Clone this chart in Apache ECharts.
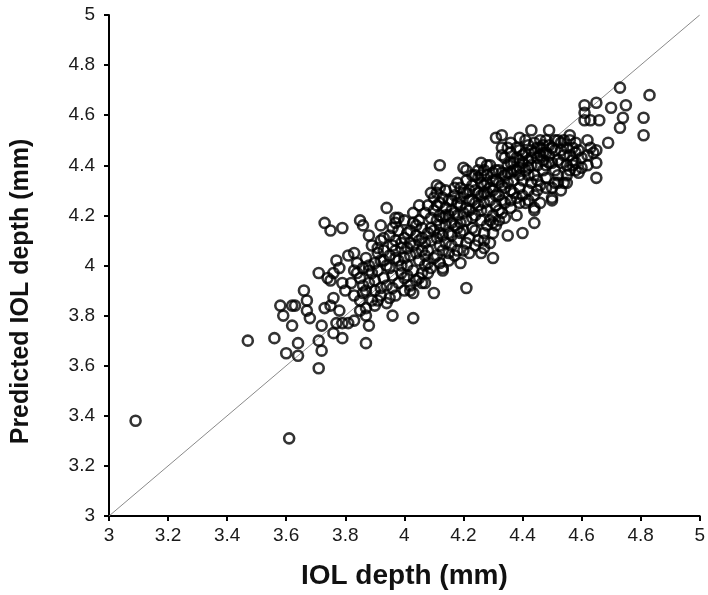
<!DOCTYPE html>
<html>
<head>
<meta charset="utf-8">
<script src="https://cdn.jsdelivr.net/npm/echarts@6/dist/echarts.min.js"></script>
<style>
html,body{margin:0;padding:0;background:#fff;}
#chart{width:708px;height:595px;}
</style>
</head>
<body>
<div id="chart"></div>
<script>
// Axis ticks
var xTicks = [3, 3.2, 3.4, 3.6, 3.8, 4, 4.2, 4.4, 4.6, 4.8, 5];
var yTicks = [3, 3.2, 3.4, 3.6, 3.8, 4, 4.2, 4.4, 4.6, 4.8, 5];
var identityLine = [[3, 3], [5, 5]];

// [IOL depth, predicted IOL depth]
var edgePoints = [
  [3.09,3.38],[3.61,3.31],[3.47,3.70],[3.56,3.71],[3.60,3.65],[3.64,3.69],[3.64,3.64],[3.62,3.76],
  [3.59,3.80],[3.58,3.84],[3.62,3.84],[3.63,3.84],[3.66,3.90],[3.67,3.86],[3.67,3.82],[3.68,3.79],
  [3.72,3.76],[3.71,3.70],[3.72,3.66],[3.71,3.59],[3.73,3.83],[3.75,3.84],[3.76,3.73],[3.77,3.77],
  [3.76,3.87],[3.75,3.94],[3.73,4.17],[3.75,4.14],[3.79,4.15],[3.94,4.23],[3.97,4.19],[3.85,4.18],
  [3.86,4.16],[3.92,4.16],[3.88,4.12],[3.71,3.97],[3.74,3.95],[3.76,3.97],[3.77,4.02],[3.78,3.99],
  [3.83,3.98],[3.81,4.04],[3.83,4.05],[3.79,3.93],[3.80,3.90],[3.79,3.71],[3.79,3.77],[3.81,3.77],
  [3.83,3.78],[3.78,3.82],[3.83,3.88],[3.86,3.89],[3.85,3.86],[3.87,3.83],[3.87,3.80],[3.88,3.76],
  [3.87,3.69],[3.96,3.80],[3.91,3.86],[3.92,3.88],[4.03,3.79],[4.03,3.89],[4.07,3.93],[4.10,3.89],
  [4.13,3.98],[4.13,3.99],[3.96,3.91],[4.02,3.90]
];
var upperPoints = [
  [4.12,4.40],[4.35,4.12],[4.40,4.13],[4.44,4.17],[4.44,4.23],[4.19,4.01],[4.21,3.91],[4.30,4.03],
  [4.26,4.05],[4.27,4.10],[4.29,4.09],[3.98,4.19],[4.11,4.32],[4.09,4.29],[4.20,4.39],[4.26,4.41],
  [4.34,4.43],[4.39,4.46],[4.42,4.48],[4.31,4.51],[4.33,4.52],[4.39,4.51],[4.43,4.54],[4.49,4.54],
  [4.73,4.71],[4.83,4.68],[4.61,4.64],[4.65,4.65],[4.70,4.63],[4.75,4.64],[4.61,4.61],[4.61,4.58],
  [4.63,4.58],[4.66,4.58],[4.74,4.59],[4.73,4.55],[4.81,4.59],[4.81,4.52],[4.69,4.49],[4.65,4.46],
  [4.65,4.41],[4.65,4.35],[4.46,4.50],[4.51,4.50],[4.56,4.52],[4.62,4.50],[4.58,4.49],[4.59,4.46],
  [4.60,4.43],[4.57,4.40],[4.59,4.37],[4.54,4.33],[4.50,4.31],[4.50,4.27],[4.44,4.22],[4.64,4.45],
  [4.53,4.41],[4.50,4.26]
];
var corePointsLow = [
  [3.85,3.95],[3.86,3.99],[3.87,4.03],[3.88,3.93],[3.89,3.97],[3.90,4.01],[3.90,3.94],[3.91,4.05],
  [3.89,4.08],[3.92,4.10],[3.88,4.00],[3.86,3.92],[3.90,3.84],[3.91,3.98],[3.92,4.02],[3.84,3.97],
  [3.84,4.01],[3.82,3.93],[3.85,3.82],
  [3.93,3.95],[3.94,4.00],[3.95,4.04],[3.96,4.08],[3.93,4.11],[3.95,4.12],[3.97,4.06],[3.98,4.02],
  [3.99,3.97],[3.94,3.92],[3.96,3.96],[3.97,4.10],[3.98,4.14],[3.99,4.07],[4.00,4.11],[3.95,3.87],
  [3.98,3.93],[4.00,4.03],[3.93,4.06],[3.96,4.15],[3.99,4.00],[4.00,3.95],
  [4.01,4.00],[4.02,4.04],[4.03,4.08],[4.04,4.12],[4.05,4.02],[4.06,4.06],[4.01,3.96],[4.03,3.98],
  [4.05,4.10],[4.06,4.15],[4.07,4.00],[4.02,4.14],[4.04,3.94],[4.07,4.09],[4.05,4.18],[4.03,4.21],
  [4.06,3.97],[4.01,4.07],[4.04,4.05],[4.07,4.04],[4.02,3.92],[4.06,3.93]
];
var corePointsMid = [
  [4.08,4.06],[4.09,4.10],[4.10,4.14],[4.11,4.18],[4.12,4.08],[4.13,4.12],[4.14,4.16],[4.15,4.20],
  [4.08,4.01],[4.09,4.15],[4.10,4.22],[4.11,4.04],[4.12,4.25],[4.13,4.19],[4.14,4.09],[4.15,4.13],
  [4.08,4.24],[4.10,4.27],[4.12,4.16],[4.14,4.23],[4.15,4.05],[4.09,3.99],[4.11,4.11],[4.13,4.06],
  [4.14,4.30],[4.12,4.20],[4.10,4.03],[4.15,4.26],
  [4.16,4.12],[4.17,4.16],[4.18,4.20],[4.19,4.24],[4.20,4.14],[4.21,4.18],[4.22,4.22],[4.23,4.26],
  [4.16,4.08],[4.17,4.28],[4.18,4.10],[4.19,4.31],[4.20,4.06],[4.21,4.34],[4.22,4.11],[4.23,4.19],
  [4.16,4.22],[4.17,4.04],[4.18,4.25],[4.19,4.17],[4.20,4.29],[4.21,4.23],[4.22,4.30],[4.23,4.15],
  [4.16,4.17],[4.18,4.33],[4.20,4.21],[4.22,4.05],[4.19,4.13],[4.23,4.36],
  [4.24,4.20],[4.25,4.24],[4.26,4.28],[4.27,4.32],[4.28,4.22],[4.29,4.26],[4.30,4.30],[4.31,4.34],
  [4.24,4.14],[4.25,4.35],[4.26,4.18],[4.27,4.38],[4.28,4.16],[4.29,4.40],[4.30,4.20],[4.31,4.24],
  [4.24,4.30],[4.25,4.10],[4.26,4.33],[4.27,4.25],[4.28,4.36],[4.29,4.18],[4.30,4.37],[4.31,4.28],
  [4.26,4.22],[4.28,4.29],[4.30,4.13],[4.25,4.38],[4.31,4.16],[4.27,4.07]
];
var corePointsHigh = [
  [4.32,4.28],[4.33,4.32],[4.34,4.36],[4.35,4.40],[4.36,4.30],[4.37,4.34],[4.38,4.38],[4.39,4.42],
  [4.32,4.22],[4.33,4.44],[4.34,4.25],[4.35,4.47],[4.36,4.23],[4.37,4.41],[4.38,4.27],[4.39,4.31],
  [4.32,4.38],[4.34,4.19],[4.36,4.45],[4.38,4.20],[4.33,4.26],[4.35,4.33],[4.37,4.29],[4.39,4.36],
  [4.32,4.18],[4.36,4.37],[4.38,4.47],
  [4.40,4.34],[4.41,4.38],[4.42,4.42],[4.43,4.46],[4.44,4.36],[4.45,4.40],[4.46,4.44],[4.47,4.48],
  [4.40,4.28],[4.41,4.50],[4.42,4.30],[4.43,4.33],[4.44,4.28],[4.45,4.47],[4.46,4.32],[4.47,4.38],
  [4.40,4.44],[4.41,4.25],[4.43,4.40],[4.45,4.34],[4.47,4.42],[4.42,4.36],[4.46,4.25],[4.44,4.45],
  [4.48,4.40],[4.49,4.44],[4.50,4.47],[4.51,4.38],[4.52,4.42],[4.53,4.46],[4.54,4.50],[4.55,4.40],
  [4.56,4.44],[4.57,4.47],[4.48,4.35],[4.49,4.48],[4.51,4.33],[4.52,4.36],[4.53,4.30],[4.55,4.36],
  [4.57,4.42],[4.58,4.45],[4.48,4.45],[4.50,4.41],[4.54,4.44],[4.56,4.38],[4.58,4.41],[4.52,4.50]
];
var corePointsExtra = [
  [3.88,3.98],[3.91,4.07],[3.93,4.02],[3.95,3.99],[3.97,4.03],[3.99,4.09],[4.01,4.13],[4.02,4.09],
  [4.04,4.16],[4.06,4.11],[4.08,4.13],[4.09,4.19],[4.11,4.24],[4.12,4.13],[4.13,4.27],[4.14,4.20],
  [4.16,4.26],[4.17,4.21],[4.18,4.15],[4.19,4.27],[4.21,4.29],[4.22,4.26],[4.23,4.32],[4.24,4.25],
  [4.25,4.29],[4.26,4.36],[4.27,4.29],[4.28,4.33],[4.29,4.31],[4.30,4.34],[4.31,4.38],[4.32,4.33],
  [4.33,4.37],[4.34,4.31],[4.35,4.37],[4.36,4.41],[4.37,4.38],[4.38,4.43],[4.39,4.39],[4.40,4.41],
  [4.41,4.45],[4.42,4.39],[4.43,4.43],[4.44,4.49],[4.45,4.43],[4.46,4.47],[4.47,4.45],[4.48,4.50],
  [4.49,4.41],[4.51,4.46],[4.53,4.49],[4.55,4.47],[4.56,4.50],[4.58,4.38],[4.60,4.39],[4.62,4.44],
  [4.63,4.47],[4.62,4.40],
  [3.97,4.17],[4.00,4.18],[4.03,4.17],[4.05,4.24],[4.07,4.21],[4.11,4.29],[4.17,4.31],[4.21,4.38],
  [4.24,4.36],[4.28,4.40],[4.33,4.47],[4.36,4.49],[4.12,4.31],
  [4.00,3.90],[4.05,3.95],[4.08,3.97],[4.12,4.01],[4.15,4.02],[4.18,4.06],[4.21,4.09],[4.24,4.08],
  [4.27,4.13],[4.30,4.17],[4.33,4.21],[4.36,4.26],[4.39,4.25],[4.42,4.26],[4.45,4.30],[4.48,4.31],
  [4.52,4.33],[4.55,4.33],[3.92,3.91],[3.94,3.85],[3.97,3.88],[3.90,3.90],[3.87,3.90],[3.89,3.86]
];

var allPoints = edgePoints.concat(upperPoints, corePointsLow, corePointsMid, corePointsHigh, corePointsExtra);

var chart = echarts.init(document.getElementById('chart'), null, {renderer: 'canvas'});
var axisCommon = {
  min: xTicks[0],
  max: xTicks[xTicks.length - 1],
  interval: 0.2,
  axisLine: {show: true, onZero: false, lineStyle: {color: '#000', width: 2}},
  axisTick: {show: true, inside: false, length: 5, lineStyle: {color: '#000', width: 2}},
  splitLine: {show: false},
  nameLocation: 'middle'
};
var labelFmt = function (v) { return String(+v.toFixed(1)); };
chart.setOption({
  animation: false,
  backgroundColor: '#fff',
  grid: {left: 109, right: 2, top: 15, bottom: 79, containLabel: false},
  xAxis: Object.assign({}, axisCommon, {
    type: 'value',
    name: 'IOL depth (mm)',
    nameGap: 46,
    nameTextStyle: {fontFamily: 'Liberation Sans', fontWeight: 'bold', fontSize: 28, color: '#111'},
    axisLabel: {margin: 10, fontFamily: 'Liberation Sans', fontSize: 19, color: '#1a1a1a', formatter: labelFmt}
  }),
  yAxis: Object.assign({}, axisCommon, {
    type: 'value',
    min: yTicks[0],
    max: yTicks[yTicks.length - 1],
    name: 'Predicted IOL depth (mm)',
    nameGap: 75,
    nameTextStyle: {fontFamily: 'Liberation Sans', fontWeight: 'bold', fontSize: 25, color: '#111',
      padding: [0, 52, 0, 0]},
    axisLabel: {margin: 14, fontFamily: 'Liberation Sans', fontSize: 19, color: '#1a1a1a', formatter: labelFmt}
  }),
  series: [
    {
      type: 'line',
      data: identityLine,
      symbol: 'none',
      lineStyle: {color: '#8a8a8a', width: 1},
      silent: true,
      z: 1
    },
    {
      type: 'scatter',
      data: allPoints,
      symbol: 'circle',
      symbolSize: 10,
      itemStyle: {color: 'rgba(0,0,0,0)', borderColor: '#000', borderWidth: 2.6},
      z: 2
    }
  ]
});
</script>
</body>
</html>
